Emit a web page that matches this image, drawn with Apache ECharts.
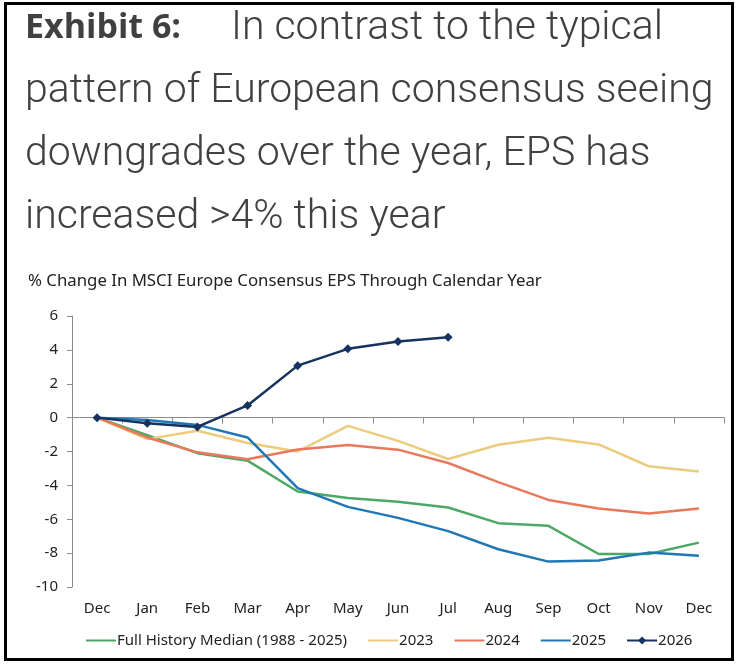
<!DOCTYPE html>
<html lang="en">
<head>
    <meta charset="UTF-8">
    <title>Exhibit 6</title>
    <style>
        html, body { margin: 0; padding: 0; background: #fff; }
        #main { width: 737px; height: 669px; }
    </style>
</head>
<body>
<div id="main"></div>
<script src="https://cdn.jsdelivr.net/npm/echarts@6/dist/echarts.min.js"></script>
<script>
// 横轴月份
var months = ['Dec', 'Jan', 'Feb', 'Mar', 'Apr', 'May', 'Jun', 'Jul', 'Aug', 'Sep', 'Oct', 'Nov', 'Dec'];
var seriesNames = ['Full History Median (1988 - 2025)', '2023', '2024', '2025', '2026'];

// 各序列数值（% change）
var medianHist = [0, -1.04, -2.1, -2.54, -4.36, -4.75, -4.96, -5.31, -6.23, -6.39, -8.05, -8.05, -7.38];
var y2023 = [0, -1.27, -0.78, -1.5, -2.0, -0.49, -1.37, -2.44, -1.6, -1.19, -1.58, -2.87, -3.18];
var y2024 = [0, -1.17, -2.05, -2.46, -1.88, -1.62, -1.89, -2.68, -3.81, -4.86, -5.37, -5.66, -5.37];
var y2025 = [0, -0.14, -0.43, -1.17, -4.16, -5.27, -5.92, -6.7, -7.77, -8.5, -8.44, -7.97, -8.16];
var y2026 = [0, -0.33, -0.55, 0.72, 3.07, 4.06, 4.49, 4.74];

var colors = ['#4DA866', '#EDCB7C', '#E9795C', '#1F77B4', '#15335E'];

var myChart = echarts.init(document.getElementById('main'));

var lineSeries = function (name, data, color) {
    return {
        name: name,
        type: 'line',
        data: data,
        symbol: 'none',
        lineStyle: {color: color, width: 2.5},
        itemStyle: {color: color},
        emphasis: {disabled: true}
    };
};

var s2026 = lineSeries(seriesNames[4], y2026, colors[4]);
s2026.symbol = 'diamond';
s2026.symbolSize = 9;
s2026.showSymbol = true;

// 图例：前四个只画线，2026 带菱形
var legendData = seriesNames.map(function (n, i) {
    if (i < 4) {
        return {name: n, itemStyle: {opacity: 0}};
    }
    return {name: n};
});

var option = {
    animation: false,
    textStyle: {fontFamily: 'Noto Sans'},
    title: [{
        left: 25,
        top: -3,
        padding: 0,
        text: '{b|Exhibit 6:}{n|     In contrast to the typical}\n{n|pattern of European consensus seeing}\n{n|downgrades over the year, EPS has}\n{n|increased >4% this year}',
        textStyle: {
            rich: {
                b: {fontFamily: 'Open Sans', fontWeight: 'bold', fontSize: 34, color: '#404040', lineHeight: 63},
                n: {fontFamily: 'Roboto', fontWeight: 300, fontSize: 41, color: '#404040', lineHeight: 63}
            }
        }
    }, {
        left: 28,
        top: 273,
        padding: 0,
        text: '% Change In MSCI Europe Consensus EPS Through Calendar Year',
        textStyle: {fontFamily: 'Noto Sans', fontWeight: 'normal', fontSize: 16.8, color: '#222'}
    }],
    legend: {
        bottom: 16,
        left: 80,
        itemWidth: 30,
        itemHeight: 10,
        itemGap: 20,
        textStyle: {fontSize: 15, color: '#222', padding: [0, 0, 0, -4]},
        data: legendData
    },
    grid: {left: 72, right: 13, top: 316, bottom: 82},
    xAxis: [{
        type: 'category',
        data: months,
        axisLine: {onZero: true, lineStyle: {color: '#8c8c8c', width: 1}},
        axisTick: {show: true, inside: false, length: 6, lineStyle: {color: '#8c8c8c'}},
        axisLabel: {show: false}
    }, {
        type: 'category',
        data: months,
        position: 'bottom',
        axisLine: {show: false, onZero: false},
        axisTick: {show: false},
        axisLabel: {show: true, margin: 14, fontSize: 15, color: '#222'}
    }],
    yAxis: {
        type: 'value',
        min: -10,
        max: 6,
        interval: 2,
        axisLine: {show: true, lineStyle: {color: '#8c8c8c'}},
        axisTick: {show: true, length: 5, lineStyle: {color: '#8c8c8c'}},
        splitLine: {show: false},
        axisLabel: {margin: 14, fontSize: 15, color: '#222'}
    },
    graphic: [{
        type: 'rect',
        shape: {x: 5.5, y: 3.5, width: 727, height: 656},
        style: {fill: 'none', stroke: '#000', lineWidth: 3},
        silent: true
    }],
    series: [
        lineSeries(seriesNames[0], medianHist, colors[0]),
        lineSeries(seriesNames[1], y2023, colors[1]),
        lineSeries(seriesNames[2], y2024, colors[2]),
        lineSeries(seriesNames[3], y2025, colors[3]),
        s2026
    ]
};

myChart.setOption(option);
</script>
</body>
</html>
